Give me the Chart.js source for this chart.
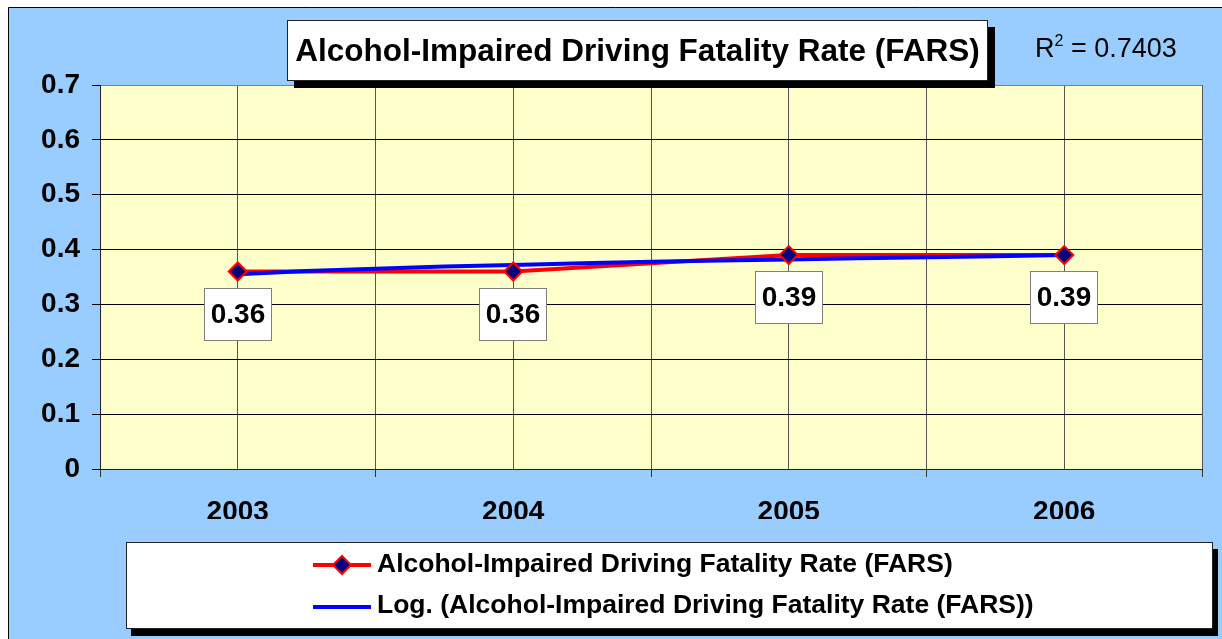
<!DOCTYPE html>
<html>
<head>
<meta charset="utf-8">
<script src="https://cdn.jsdelivr.net/npm/chart.js@4.4.1/dist/chart.umd.min.js"></script>
<style>
  body { margin: 0; background: #fff; font-family: "Liberation Sans", Arial, sans-serif; }
  #wrap { position: relative; width: 1222px; height: 639px; overflow: hidden; }
  #chart { position: absolute; left: 0; top: 0; }
  .box { position: absolute; background: #fff; border: 1px solid #222; box-sizing: border-box; }
  #title { left: 287px; top: 20px; width: 701px; height: 61px; box-shadow: 7px 7px 0 #000;
           font-weight: bold; font-size: 31.5px; line-height: 59px; text-align: center; color: #000; white-space: nowrap; }
  #r2 { position: absolute; left: 1035px; top: 33px; font-size: 27px; line-height: 30px; color: #000; white-space: nowrap; }
  #r2 sup { font-size: 16px; vertical-align: 11px; line-height: 0; }
  #legend { left: 126px; top: 542px; width: 1087px; height: 87px; box-shadow: 5px 7px 0 #000; }
  .legsym { position: absolute; left: 313px; }
  .legtxt { position: absolute; left: 377px; font-weight: bold; font-size: 26.5px; line-height: 30px; color: #000; white-space: nowrap; }
</style>
</head>
<body>
<div id="wrap">
  <canvas id="chart" width="1222" height="639"></canvas>
  <div id="title" class="box">Alcohol-Impaired Driving Fatality Rate (FARS)</div>
  <div id="r2">R<sup>2</sup> = 0.7403</div>
  <div id="legend" class="box"></div>
  <svg class="legsym" style="top:550px" width="60" height="30">
    <line x1="0" y1="15" x2="58" y2="15" stroke="#FF0000" stroke-width="4"/>
    <polygon points="29,6 38,15 29,24 20,15" fill="#000080" stroke="#FF0000" stroke-width="2"/>
  </svg>
  <div class="legtxt" style="top:548px">Alcohol-Impaired Driving Fatality Rate (FARS)</div>
  <svg class="legsym" style="top:592px" width="60" height="30">
    <line x1="0" y1="15" x2="58" y2="15" stroke="#0000FF" stroke-width="4"/>
  </svg>
  <div class="legtxt" style="top:589px">Log. (Alcohol-Impaired Driving Fatality Rate (FARS))</div>
</div>

<script>
// data
let years = ["2003", "2004", "2005", "2006"];
let rates = [0.36, 0.36, 0.39, 0.39];
let rateLabels = ["0.36", "0.36", "0.39", "0.39"];

// log trendline at quarter-year steps
let trendX = [1, 1.25, 1.5, 1.75, 2, 2.25, 2.5, 2.75, 3, 3.25, 3.5, 3.75, 4];
let trendRates = [0.355, 0.361, 0.365, 0.369, 0.372, 0.375, 0.378, 0.380, 0.382, 0.384, 0.386, 0.388, 0.390];

let yMax = 0.7;
let yStep = 0.1;

let ratePoints = rates.map((v, i) => ({ x: i + 1, y: v }));
let trendPoints = trendX.map((x, i) => ({ x: x, y: trendRates[i] }));

const backdrop = {
    id: "backdrop",
    beforeDraw(chart) {
        let ctx = chart.ctx;
        let a = chart.chartArea;
        ctx.save();
        ctx.fillStyle = "#ffffff";
        ctx.fillRect(0, 0, chart.width, chart.height);
        ctx.fillStyle = "#99CCFF";
        ctx.fillRect(8, 7, chart.width - 8, chart.height - 7);
        ctx.strokeStyle = "#000";
        ctx.lineWidth = 1;
        ctx.beginPath();
        ctx.moveTo(8.5, chart.height);
        ctx.lineTo(8.5, 7.5);
        ctx.lineTo(chart.width, 7.5);
        ctx.stroke();
        ctx.fillStyle = "#FFFFCC";
        ctx.fillRect(a.left, a.top, a.right - a.left, a.bottom - a.top);
        ctx.restore();
    }
};

const valueBoxes = {
    id: "valueBoxes",
    afterDatasetsDraw(chart) {
        let ctx = chart.ctx;
        let meta = chart.getDatasetMeta(2);
        ctx.save();
        ctx.font = "bold 28px 'Liberation Sans', Arial, sans-serif";
        ctx.textAlign = "center";
        ctx.textBaseline = "middle";
        meta.data.forEach((pt, i) => {
            let cx = Math.round(pt.x);
            let cy = Math.round(pt.y + 42);
            ctx.fillStyle = "#fff";
            ctx.fillRect(cx - 34, cy - 26, 67, 52);
            ctx.strokeStyle = "#7f7f7f";
            ctx.lineWidth = 1;
            ctx.strokeRect(cx - 33.5, cy - 25.5, 67, 52);
            ctx.fillStyle = "#000";
            ctx.fillText(rateLabels[i], cx, cy + 1);
        });
        ctx.restore();
    }
};

new Chart(document.getElementById("chart"), {
    type: "line",
    data: {
        datasets: [
            {
                label: "Alcohol-Impaired Driving Fatality Rate (FARS)",
                data: ratePoints,
                borderColor: "#FF0000",
                borderWidth: 4,
                pointRadius: 0,
                order: 3
            },
            {
                label: "Log. (Alcohol-Impaired Driving Fatality Rate (FARS))",
                data: trendPoints,
                borderColor: "#0000FF",
                borderWidth: 4,
                pointRadius: 0,
                order: 2
            },
            {
                label: "markers",
                data: ratePoints,
                showLine: false,
                pointStyle: "rectRot",
                pointRadius: 9,
                pointBackgroundColor: "#000080",
                pointBorderColor: "#FF0000",
                pointBorderWidth: 2,
                order: 1
            }
        ]
    },
    options: {
        responsive: false,
        animation: false,
        layout: { padding: { left: 0, top: 85, right: 20, bottom: 120 } },
        plugins: {
            legend: { display: false },
            tooltip: { enabled: false }
        },
        scales: {
            x: {
                type: "linear",
                min: 0.5,
                max: years.length + 0.5,
                afterFit: s => { s.height = 50; },
                ticks: {
                    stepSize: 0.5,
                    autoSkip: false,
                    maxRotation: 0,
                    padding: 18,
                    color: "#000",
                    font: { family: "'Liberation Sans', Arial, sans-serif", size: 28, weight: "bold" },
                    callback: v => Number.isInteger(v) ? years[v - 1] : ""
                },
                grid: {
                    color: "#555",
                    lineWidth: 1,
                    tickLength: 8,
                    tickColor: c => Number.isInteger(c.tick.value) ? "rgba(0,0,0,0)" : "#333"
                },
                border: { color: "#222", width: 1 }
            },
            y: {
                min: 0,
                max: yMax,
                afterFit: s => { s.width = 100; },
                ticks: {
                    stepSize: yStep,
                    padding: 12,
                    color: "#000",
                    font: { family: "'Liberation Sans', Arial, sans-serif", size: 28, weight: "bold" },
                    callback: v => +v.toFixed(1) + ""
                },
                grid: {
                    color: c => c.tick.value > yMax - 0.001 ? "#808080" : "#000",
                    lineWidth: 1,
                    tickLength: 8,
                    tickColor: "#000"
                },
                border: { color: "#222", width: 1 }
            }
        }
    },
    plugins: [backdrop, valueBoxes]
});
</script>
</body>
</html>
